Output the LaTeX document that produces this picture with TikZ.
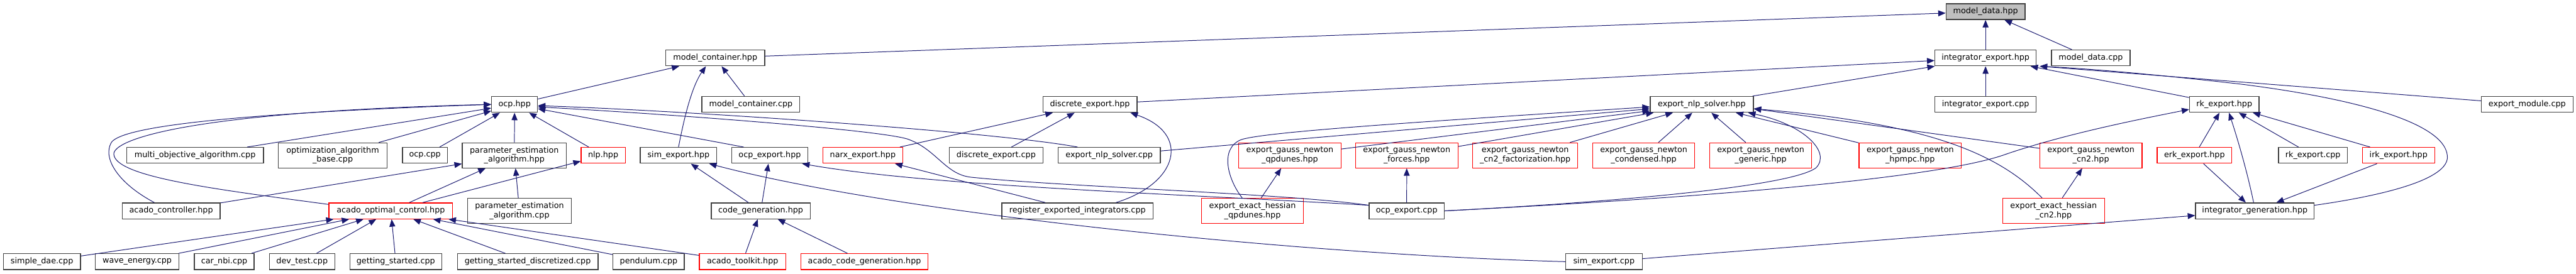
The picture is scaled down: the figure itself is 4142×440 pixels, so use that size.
\documentclass[tikz,border=0pt]{standalone}
\usepackage{fontspec}
\setmainfont{DejaVu Sans}
\usetikzlibrary{arrows.meta,positioning,calc}
\definecolor{edgeblue}{HTML}{191970}
\definecolor{boxgray}{HTML}{404040}
\definecolor{fillgray}{HTML}{BFBFBF}
\tikzset{
  file/.style={draw=boxgray,line width=1.3pt,rectangle,inner sep=0pt,minimum height=25.5pt,
    font=\fontsize{12.9}{15}\selectfont,align=center,fill=white},
  trunc/.style={file,draw=red},
  twoline/.style={minimum height=40.3pt},
  dep/.style={draw=edgeblue,line width=1pt,-{Triangle[length=12pt,width=9.5pt]}},
}
\begin{document}
\begin{tikzpicture}[x=1pt,y=-1pt]
  \useasboundingbox (0,0) rectangle (4142,440);
  % rank 0 and 1
  \node[file,fill=fillgray,minimum width=127] (mdh) at (3192.6,18.7) {model\_data.hpp};
  \node[file,minimum width=159] (mch) at (1150,93.2) {model\_container.hpp};
  \node[file,minimum width=163] (intexp) at (3192.6,93.2) {integrator\_export.hpp};
  \node[file,minimum width=126.4] (mdc) at (3361.8,93.2) {model\_data.cpp};
  % rank 2
  \node[file,minimum width=73.7] (ocp) at (827.4,168) {ocp.hpp};
  \node[file,minimum width=157.6] (mcc) at (1207.3,168) {model\_container.cpp};
  \node[file,minimum width=151.3] (dexph) at (1752.5,168) {discrete\_export.hpp};
  \node[file,minimum width=165.7] (enlp) at (2736.3,168) {export\_nlp\_solver.hpp};
  \node[file,minimum width=163] (intexpc) at (3192.6,168) {integrator\_export.cpp};
  \node[file,minimum width=111.7] (rk) at (3576.5,168) {rk\_export.hpp};
  \node[file,minimum width=147.4] (emod) at (4063.4,168) {export\_module.cpp};
  % rank 3
  \node[file,minimum width=220] (moa) at (313.6,250) {multi\_objective\_algorithm.cpp};
  \node[file,twoline,minimum width=174.6] (oab) at (535,250) {optimization\_algorithm\\\_base.cpp};
  \node[file,minimum width=72] (ocpc) at (683.3,250) {ocp.cpp};
  \node[file,twoline,minimum width=167.4] (peah) at (827,250) {parameter\_estimation\\\_algorithm.hpp};
  \node[trunc,minimum width=71] (nlp) at (969.9,250) {nlp.hpp};
  \node[file,minimum width=123.2] (simh) at (1091,250) {sim\_export.hpp};
  \node[file,minimum width=122.8] (ocpxh) at (1237.7,250) {ocp\_export.hpp};
  \node[trunc,minimum width=128] (narx) at (1387.3,250) {narx\_export.hpp};
  \node[file,minimum width=151] (dexpc) at (1601.7,250) {discrete\_export.cpp};
  \node[file,minimum width=164.3] (enlpc) at (1783.5,250) {export\_nlp\_solver.cpp};
  \node[trunc,twoline,minimum width=164.3] (gnq) at (2074,250) {export\_gauss\_newton\\\_qpdunes.hpp};
  \node[trunc,twoline,minimum width=164.7] (gnf) at (2261.9,250) {export\_gauss\_newton\\\_forces.hpp};
  \node[trunc,twoline,minimum width=169.2] (gncf) at (2452.4,250) {export\_gauss\_newton\\\_cn2\_factorization.hpp};
  \node[trunc,twoline,minimum width=164.3] (gncd) at (2642.9,250) {export\_gauss\_newton\\\_condensed.hpp};
  \node[trunc,twoline,minimum width=164] (gng) at (2831,250) {export\_gauss\_newton\\\_generic.hpp};
  \node[trunc,twoline,minimum width=164.3] (gnh) at (3071.4,250) {export\_gauss\_newton\\\_hpmpc.hpp};
  \node[trunc,twoline,minimum width=164.3] (gnc) at (3362,250) {export\_gauss\_newton\\\_cn2.hpp};
  \node[trunc,minimum width=120] (erk) at (3528.5,250) {erk\_export.hpp};
  \node[file,minimum width=110.8] (rkc) at (3719,250) {rk\_export.cpp};
  \node[trunc,minimum width=116] (irk) at (3856.6,250) {irk\_export.hpp};
  % rank 4
  \node[file,minimum width=157.6] (actl) at (275.2,339.3) {acado\_controller.hpp};
  \node[trunc,minimum width=199] (aoc) at (628.4,339.3) {acado\_optimal\_control.hpp};
  \node[file,twoline,minimum width=167] (peac) at (835.3,339.2) {parameter\_estimation\\\_algorithm.cpp};
  \node[file,minimum width=159] (cgen) at (1223.2,339.3) {code\_generation.hpp};
  \node[file,minimum width=243] (reg) at (1732.5,339.3) {register\_exported\_integrators.cpp};
  \node[trunc,twoline,minimum width=164.3] (ehq) at (2013.9,339.2) {export\_exact\_hessian\\\_qpdunes.hpp};
  \node[file,minimum width=121] (ocpxc) at (2261.8,339.3) {ocp\_export.cpp};
  \node[trunc,twoline,minimum width=164] (ehc) at (3302,339.2) {export\_exact\_hessian\\\_cn2.hpp};
  \node[file,minimum width=190.6] (intgen) at (3625.6,339.3) {integrator\_generation.hpp};
  % rank 5
  \node[file,minimum width=124] (sdae) at (67.4,421) {simple\_dae.cpp};
  \node[file,minimum width=135] (wave) at (220.5,421) {wave\_energy.cpp};
  \node[file,minimum width=96] (cnbi) at (360.5,421) {car\_nbi.cpp};
  \node[file,minimum width=105.4] (dtest) at (485.7,421) {dev\_test.cpp};
  \node[file,minimum width=147.8] (gs) at (636.4,421) {getting\_started.cpp};
  \node[file,minimum width=226.3] (gsd) at (848.5,421) {getting\_started\_discretized.cpp};
  \node[file,minimum width=114.7] (pend) at (1043,421) {pendulum.cpp};
  \node[trunc,minimum width=139] (atk) at (1194,421) {acado\_toolkit.hpp};
  \node[trunc,minimum width=204] (acg) at (1390,421) {acado\_code\_generation.hpp};
  \node[file,minimum width=123.2] (simc) at (2579,421) {sim\_export.cpp};

  % includes of model_data.hpp and model_container.hpp
  \draw[dep] (mch) -- (mdh);
  \draw[dep] (intexp) -- (mdh);
  \draw[dep] (mdc) -- (mdh);
  \draw[dep] (ocp) -- (mch);
  \draw[dep] (mcc) -- (mch);
  \draw[dep] (simh.north) .. controls (1100,190) and (1112,140) .. ([xshift=-15]mch.south);
  % integrator_export.hpp
  \draw[dep] (dexph) -- (intexp);
  \draw[dep] (enlp) -- (intexp);
  \draw[dep] (intexpc) -- (intexp);
  \draw[dep] (rk) -- ([xshift=-10]intexp.south east);
  \draw[dep] (emod) -- ([xshift=5]intexp.south east);
  \draw[dep] ([yshift=9]intgen.east) .. controls (3850,312) and (3940,285) .. (3935,250)
    .. controls (3930,200) and (3800,160) .. (3600,135) .. controls (3450,118) and (3350,110) .. ([xshift=5]intexp.south east);
  % ocp.hpp
  \draw[dep] (moa) -- (ocp);
  \draw[dep] (oab) -- (ocp);
  \draw[dep] (ocpc) -- (ocp);
  \draw[dep] (peah) -- (ocp);
  \draw[dep] (nlp) -- (ocp);
  \draw[dep] ([xshift=-42]ocpxh.north) -- (ocp);
  \draw[dep] ([xshift=-27]actl.north) .. controls (190,295) and (165,255) .. (178.6,230)
    .. controls (189.5,210) and (300,185) .. (ocp.west);
  \draw[dep] ([yshift=-3]aoc.north west) .. controls (350,305) and (185,285) .. (183,248)
    .. controls (182,225) and (300,180) .. (ocp.west);
  \draw[dep] ([xshift=-51]enlpc.north) .. controls (1600,212) and (1100,178) .. ([yshift=-2]ocp.east);
  \draw[dep] ([yshift=9]ocpxc.west) .. controls (2080,312) and (1700,300) .. (1560,285)
    .. controls (1520,280) and (1505,240) .. (1460,224) .. controls (1420,210) and (1100,185) .. ([yshift=-4]ocp.east);
  % parameter estimation and nlp
  \draw[dep] (actl) -- (peah);
  \draw[dep] (aoc) -- (peah);
  \draw[dep] (peac) -- (peah);
  \draw[dep] (aoc) -- (nlp);
  % acado_optimal_control.hpp
  \foreach \src in {sdae,wave,cnbi,dtest,gs,gsd,pend,atk}
    \draw[dep] (\src) -- (aoc);
  % code generation
  \draw[dep] (cgen) -- (simh);
  \draw[dep] (cgen) -- (ocpxh);
  \draw[dep] (atk) -- (cgen);
  \draw[dep] (acg) -- (cgen);
  \draw[dep] (simc.west) .. controls (2100,410) and (1450,345) .. ([xshift=-13]simh.south east);
  \draw[dep] ([yshift=9]ocpxc.west) .. controls (1900,312) and (1500,300) .. ([xshift=-10]ocpxh.south east);
  % discrete export
  \draw[dep] (narx) -- (dexph);
  \draw[dep] (dexpc) -- (dexph);
  \draw[dep] (reg) -- (narx);
  \draw[dep] ([xshift=62]reg.north) .. controls (1895,295) and (1915,215) .. ([xshift=65]dexph.south);
  % export_nlp_solver.hpp
  \foreach \src in {enlpc,gnq,gnf,gncf,gncd,gng,gnh}
    \draw[dep] (\src) -- (enlp);
  \draw[dep] (gnc) -- ([yshift=-7]enlp.east);
  \draw[dep] ([xshift=-16.6]ehq.north) .. controls (1975,290) and (1960,240) .. (1995,225)
    .. controls (2030,212) and (2300,195) .. ([yshift=-4]enlp.west);
  \draw[dep] ([xshift=-18.6]ehc.north) .. controls (3220,255) and (3120,200) .. ([yshift=-7]enlp.east);
  \draw[dep] (ocpxc.east) .. controls (2600,325) and (2880,300) .. (2920,270)
    .. controls (2945,245) and (2900,200) .. ([xshift=-9]enlp.south east);
  \draw[dep] (ehq) -- (gnq);
  \draw[dep] (ehc) -- (gnc);
  \draw[dep] (ocpxc) -- (gnf);
  % rk_export.hpp and integrator_generation.hpp
  \draw[dep] (erk) -- (rk);
  \draw[dep] (rkc) -- (rk);
  \draw[dep] (irk) -- (rk);
  \draw[dep] ([xshift=-2]intgen.north) .. controls (3612,270) and (3595,215) .. ([xshift=7.5]rk.south);
  \draw[dep] (ocpxc.east) .. controls (2700,320) and (3100,290) .. (3220,250)
    .. controls (3320,215) and (3450,190) .. ([yshift=-8]rk.west);
  \draw[dep] (erk) -- (intgen);
  \draw[dep] (irk) -- (intgen);
  \draw[dep] (simc) -- (intgen);
\end{tikzpicture}
\end{document}
